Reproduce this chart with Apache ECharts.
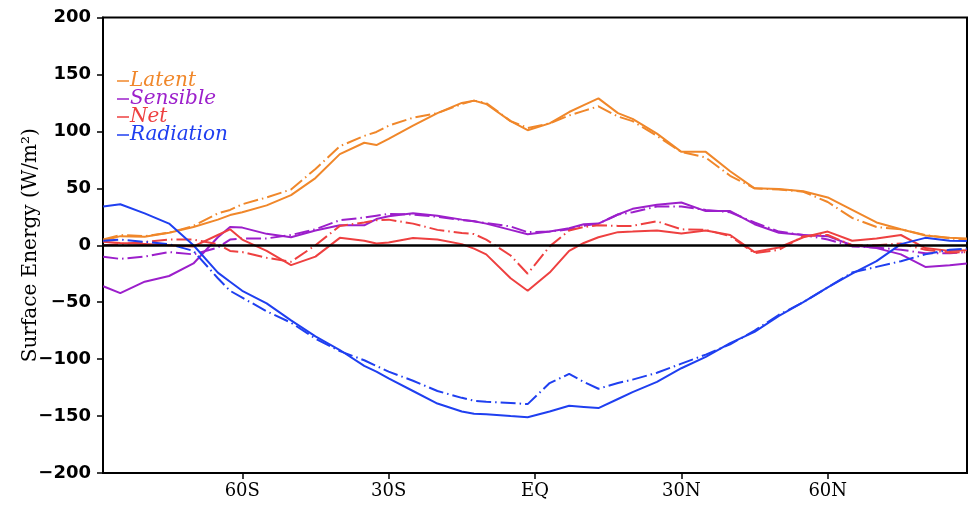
<!DOCTYPE html>
<html>
<head>
<meta charset="utf-8">
<script src="https://cdn.jsdelivr.net/npm/echarts@6/dist/echarts.min.js"></script>
<style>
  html, body { margin: 0; padding: 0; background: #fff; }
  #chart { width: 970px; height: 505px; }
</style>
</head>
<body>
<div id="chart"></div>
<script>
// latitude of each point (negative = south)
const lats = [-88.5, -85, -80, -75, -70, -65, -62.5, -60, -55, -50, -45, -40, -35, -32.5, -30, -25, -20, -15, -12.5, -10, -5, -1.5,
  3, 7, 10, 13, 17, 20, 25, 30, 35, 40, 45, 50, 55, 60, 65, 70, 75, 80, 85, 88.5];

// solid = first run, dashed = second run (W/m2)
const latentSolid = [4, 8, 7.5, 11, 16, 22.5, 26.5, 29, 35, 44, 59, 80, 90, 88, 93.5, 105, 116, 125, 127, 124, 109, 101,
  107, 117, 123, 129, 116, 111, 98, 82, 82, 65, 50, 49.5, 47.5, 42, 31, 20, 14, 8.5, 6.5, 6];
const latentDash = [5, 9, 8, 11, 17, 28, 31, 36, 42, 49, 67, 87, 96, 99.5, 105, 112, 116, 124, 127, 125, 109, 103,
  107, 114, 118, 122, 113, 109, 96, 82, 77, 61, 50, 49, 47, 38, 24, 16, 14, 9, 6, 5];
const sensibleSolid = [-36, -42, -32, -27, -16, 7, 16, 15.5, 10, 7, 13, 17.5, 17.5, 23, 25.5, 28, 26, 22.5, 21, 19, 13.5, 9.7,
  12, 15, 18.4, 19, 27, 32, 35.5, 37.5, 30, 30, 18.5, 11, 9, 8, 0, -2.5, -8, -19, -17.5, -16];
const sensibleDash = [-10, -12, -10, -6, -8, -2, 5, 6, 6, 9, 14, 22, 24.3, 26, 27.5, 27, 25, 22, 21, 19.5, 16.5, 11.5,
  12, 14, 17, 19, 27, 29, 34, 34, 31, 29, 20, 12, 9, 5, -1, -2, -4, -7, -7, -6];
const netSolid = [3, 2, 1, 0, -1, 9, 14, 5, -5, -17.5, -10, 6.5, 4, 1.5, 2.5, 6.4, 5, 1, -3, -8, -29, -40,
  -24, -5, 2, 7, 11.5, 12, 13, 10.3, 13, 9, -6, -2, 7, 12, 4, 6, 9, -2.5, -5, -4.4];
const netDash = [0, 1, 3, 5, 5, 1, -5, -6, -11, -14.5, 0, 17, 20, 22, 22.5, 19, 13.5, 10.8, 9.8, 5, -9, -25,
  -1, 13, 16, 17.5, 17, 17, 21, 14, 13.5, 8, -7, -4, 8, 9, 0, 0, 1.5, -4, -6.5, -6];
const radSolid = [34, 36, 28, 19, 0, -24, -32, -40, -51, -66, -80, -92, -106, -111, -117, -128, -139, -146, -148, -148.5, -150, -151,
  -146, -141, -142, -143, -135, -129, -120, -108, -98, -86, -76, -62, -50, -37, -25, -14, 1, 6.5, 4, 3.8];
const radDash = [4, 5, 3, 1, -5, -29, -40, -46, -58, -68, -82, -93, -101, -106, -111, -119, -128, -134, -136.5, -137.5, -138.5, -139.5,
  -121, -113, -120, -126, -121, -118, -112, -104, -96, -87, -75, -61, -50, -37, -24, -19, -14, -8, -4, -3];

const xTickValues = [-60, -30, 0, 30, 60];
const xTickLabels = ['60S', '30S', 'EQ', '30N', '60N'];

const names = ['Latent', 'Sensible', 'Net', 'Radiation'];
const colors = ['#F0872A', '#9C1FCB', '#EE4040', '#1F3FF0'];
const solids = [latentSolid, sensibleSolid, netSolid, radSolid];
const dashes = [latentDash, sensibleDash, netDash, radDash];

const pair = (vals) => lats.map((la, i) => [la, vals[i]]);

const series = [];
names.forEach((n, i) => {
  series.push({
    name: n, type: 'line', data: pair(solids[i]), showSymbol: false,
    itemStyle: {color: colors[i]},
    lineStyle: {color: colors[i], width: 2}
  });
  series.push({
    name: n + ' 2', type: 'line', data: pair(dashes[i]), showSymbol: false,
    itemStyle: {color: colors[i]},
    lineStyle: {color: colors[i], width: 2, type: [15, 4, 1.5, 4]}
  });
});
// zero line
series[0].markLine = {
  silent: true, symbol: 'none', label: {show: false},
  lineStyle: {color: '#000', width: 2.5, type: 'solid'},
  data: [{yAxis: 0}]
};

const option = {
  animation: false,
  grid: {left: 103, right: 3, top: 17.5, bottom: 32, show: true, borderColor: '#000', borderWidth: 2},
  legend: {
    orient: 'vertical', left: 112, top: 66,
    icon: 'rect', itemWidth: 12, itemHeight: 1.5, itemGap: -2,
    data: names.map((n, i) => ({name: n, textStyle: {color: colors[i]}})),
    textStyle: {fontFamily: 'DejaVu Serif', fontStyle: 'italic', fontSize: 20, lineHeight: 18, padding: [0, 0, 0, -4]}
  },
  xAxis: {
    type: 'value', min: -88.542, max: 88.542,
    splitLine: {show: false},
    axisLine: {show: true, onZero: false, lineStyle: {color: '#000', width: 2}},
    axisTick: {show: true, customValues: xTickValues, length: 6, lineStyle: {color: '#000', width: 1.5}},
    axisLabel: {
      customValues: xTickValues, margin: 9,
      color: '#000', fontFamily: 'DejaVu Serif', fontSize: 18,
      formatter: (v) => xTickLabels[xTickValues.indexOf(Math.round(v))]
    }
  },
  yAxis: {
    type: 'value', min: -200, max: 200, interval: 50,
    name: 'Surface Energy (W/m²)', nameLocation: 'middle', nameGap: 62, nameMoveOverlap: false,
    nameTextStyle: {color: '#000', fontFamily: 'DejaVu Serif', fontSize: 20},
    splitLine: {show: false},
    axisLine: {show: true, onZero: false, lineStyle: {color: '#000', width: 2}},
    axisTick: {show: true, length: 6, lineStyle: {color: '#000', width: 1.5}},
    axisLabel: {
      margin: 12, color: '#000', fontFamily: 'DejaVu Sans', fontWeight: 'bold', fontSize: 18,
      formatter: (v) => String(v).replace('-', '\u2212')
    }
  },
  series: series
};

const chart = echarts.init(document.getElementById('chart'));
chart.setOption(option);
</script>
</body>
</html>
